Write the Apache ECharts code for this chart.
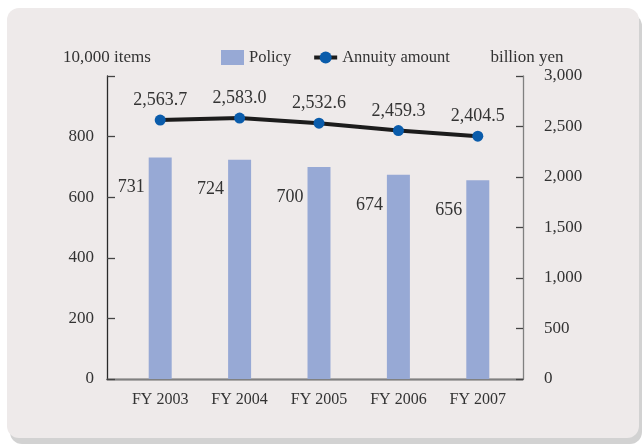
<!DOCTYPE html>
<html>
<head>
<meta charset="utf-8">
<script src="https://cdn.jsdelivr.net/npm/echarts@6/dist/echarts.min.js"></script>
<style>
  html, body { margin: 0; padding: 0; background: #ffffff; }
  #panel {
    position: absolute; left: 7px; top: 8px; width: 632px; height: 430px;
    background: #eeeaea; border-radius: 12px;
    box-shadow: 3px 6px 0 #d2d2d2;
  }
  #chart { position: absolute; left: 0; top: 0; width: 642px; height: 448px; }
</style>
</head>
<body>
<div id="panel"></div>
<div id="chart"></div>
<script>
// Fiscal years on the horizontal axis
const categories = ['FY 2003', 'FY 2004', 'FY 2005', 'FY 2006', 'FY 2007'];
// Number of policies (10,000 items)
const policyCounts = [731, 724, 700, 674, 656];
// Annuity amount paid (billion yen)
const annuityAmounts = [2563.7, 2583.0, 2532.6, 2459.3, 2404.5];
// Axis scales: [min, max, interval]
const policyScale = [0, 1000, 200];
const annuityScale = [0, 3000, 500];

const FONT = 'Liberation Serif';
const TXT = '#333333';

const fmt = (v, d) => Number(v).toLocaleString('en-US', { minimumFractionDigits: d, maximumFractionDigits: d });

const chart = echarts.init(document.getElementById('chart'), null, { renderer: 'canvas' });

chart.setOption({
  backgroundColor: 'transparent',
  textStyle: { fontFamily: FONT, color: TXT },
  legend: {
    left: 221, top: 49, padding: 0,
    itemWidth: 23, itemHeight: 15, itemGap: 21,
    textStyle: { fontFamily: FONT, fontSize: 16.5, color: TXT },
    data: [
      { name: 'Policy', icon: 'rect' },
      { name: 'Annuity amount', lineStyle: { width: 4 } }
    ]
  },
  grid: [
    // frame of the plot
    { left: 107, right: 119, top: 76, bottom: 69 },
    // area where the categories are placed
    { left: 120.5, right: 124.5, top: 76, bottom: 69 }
  ],
  xAxis: [
    { gridIndex: 0, type: 'category', data: categories, position: 'bottom',
      axisLine: { lineStyle: { color: '#2a2a2a', width: 1.3 } },
      axisTick: { show: false }, axisLabel: { show: false }, splitLine: { show: false } },
    { gridIndex: 0, type: 'category', data: categories, position: 'top',
      axisLine: { lineStyle: { color: '#808080', width: 1.3 } },
      axisTick: { show: false }, axisLabel: { show: false }, splitLine: { show: false } },
    { gridIndex: 1, type: 'category', data: categories, position: 'bottom',
      axisLine: { show: false }, axisTick: { show: false }, splitLine: { show: false },
      axisLabel: { fontFamily: FONT, fontSize: 16, color: TXT, margin: 13 } }
  ],
  yAxis: [
    { gridIndex: 0, type: 'value', position: 'left',
      min: policyScale[0], max: policyScale[1], interval: policyScale[2],
      name: '10,000 items', nameLocation: 'end', nameGap: 10,
      nameTextStyle: { fontFamily: FONT, fontSize: 17, color: TXT },
      axisLine: { show: true, lineStyle: { color: '#2a2a2a', width: 1.3 } },
      axisTick: { show: true, inside: true, length: 8, lineStyle: { color: '#444', width: 1.3 } },
      axisLabel: { fontFamily: FONT, fontSize: 17, color: TXT, margin: 13,
        formatter: v => v >= policyScale[1] ? '' : fmt(v, 0) },
      splitLine: { show: false } },
    { gridIndex: 0, type: 'value', position: 'right',
      min: annuityScale[0], max: annuityScale[1], interval: annuityScale[2],
      name: 'billion yen', nameLocation: 'end', nameGap: 10,
      nameTextStyle: { fontFamily: FONT, fontSize: 17, color: TXT, padding: [0, 0, 0, 8] },
      axisLine: { show: true, lineStyle: { color: '#808080', width: 1.3 } },
      axisTick: { show: true, inside: true, length: 7, lineStyle: { color: '#444', width: 1.3 } },
      axisLabel: { fontFamily: FONT, fontSize: 17, color: TXT, margin: 21, align: 'left',
        formatter: v => fmt(v, 0) },
      splitLine: { show: false } },
    { gridIndex: 1, type: 'value', show: false,
      min: policyScale[0], max: policyScale[1], interval: policyScale[2], splitLine: { show: false } },
    { gridIndex: 1, type: 'value', show: false,
      min: annuityScale[0], max: annuityScale[1], interval: annuityScale[2], splitLine: { show: false } }
  ],
  series: [
    { name: 'Policy', type: 'bar', xAxisIndex: 2, yAxisIndex: 2,
      data: policyCounts, barWidth: 23,
      itemStyle: { color: '#97a9d5' },
      label: { show: true, position: [-4, 30], align: 'right', verticalAlign: 'middle',
        fontFamily: FONT, fontSize: 18, color: TXT, formatter: p => fmt(p.value, 0) } },
    { name: 'Annuity amount', type: 'line', xAxisIndex: 2, yAxisIndex: 3,
      data: annuityAmounts, symbol: 'circle', symbolSize: 11,
      lineStyle: { color: '#1c1c1c', width: 4 },
      itemStyle: { color: '#0a5cab' },
      label: { show: true, position: 'top', distance: 5,
        fontFamily: FONT, fontSize: 18, color: TXT, formatter: p => fmt(p.value, 1) },
      z: 5 }
  ]
});
</script>
</body>
</html>
